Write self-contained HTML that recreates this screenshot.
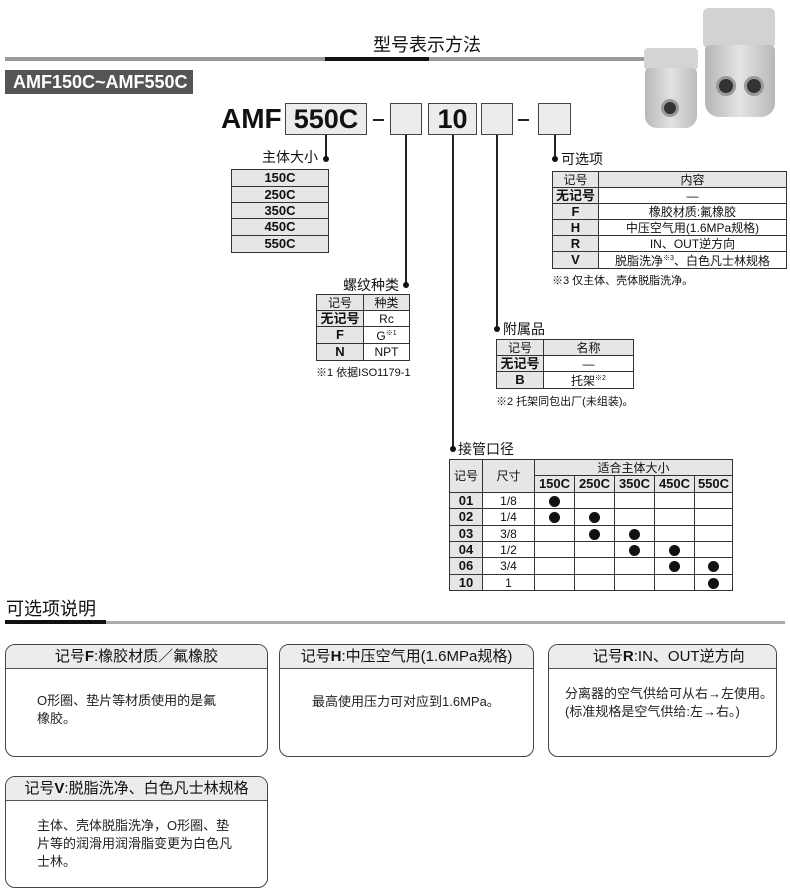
<!DOCTYPE html>
<html><head><meta charset="utf-8"><style>
*{margin:0;padding:0;box-sizing:border-box}
body{width:790px;height:894px;background:#fff;position:relative;overflow:hidden;font-family:"Liberation Sans","Noto Sans CJK SC",sans-serif;color:#111}
.a{position:absolute}
table{position:absolute;border-collapse:collapse;table-layout:fixed;font-size:12px}
td{border:1px solid #333;text-align:center;padding:0;line-height:14px;overflow:hidden;white-space:nowrap}
.g{background:#e6e6e6}
.b{font-weight:bold;font-size:13px}
.v{background:#222;width:2px}
.dot{width:6px;height:6px;border-radius:3px;background:#111}
.box{border:1px solid #444;background:#ececec;font-weight:bold;font-size:27px;text-align:center;line-height:30px}
.bl{border:1px solid #444;border-radius:10px;overflow:hidden;background:#fff}
.bh{background:#ececec;border-bottom:1px solid #555;height:24px;font-size:15px;line-height:24px;text-align:center}
.bd{font-size:13px;line-height:18px;color:#222}
.c{display:inline-block;width:11px;height:11px;border-radius:6px;background:#111;vertical-align:middle}
sup{font-size:7px}
</style></head><body>
<div class="a" style="left:5px;top:57px;width:640px;height:4px;background:#999"></div>
<div class="a" style="left:373px;top:34px;font-size:18px;line-height:22px">型号表示方法</div>
<div class="a" style="left:325px;top:57px;width:104px;height:4px;background:#111"></div>
<div class="a" style="left:5px;top:70px;width:188px;height:24px;background:#555;color:#fff;font-weight:bold;font-size:18px;line-height:24px;padding-left:8px">AMF150C~AMF550C</div>
<div class="a" style="left:644px;top:48px;width:54px;height:22px;background:#d4d4d4;border-radius:4px"></div>
<div class="a" style="left:645px;top:68px;width:52px;height:60px;background:linear-gradient(90deg,#b8b8b8,#e2e2e2,#bcbcbc);border-radius:5px 5px 12px 12px"></div>
<div class="a" style="left:661px;top:99px;width:18px;height:18px;border-radius:9px;background:#333;border:3px solid #999"></div>
<div class="a" style="left:703px;top:8px;width:72px;height:40px;background:#d2d2d2;border-radius:5px"></div>
<div class="a" style="left:705px;top:45px;width:70px;height:72px;background:linear-gradient(90deg,#b5b5b5,#e4e4e4,#b8b8b8);border-radius:5px 5px 14px 14px"></div>
<div class="a" style="left:716px;top:76px;width:20px;height:20px;border-radius:10px;background:#333;border:3px solid #999"></div>
<div class="a" style="left:744px;top:76px;width:20px;height:20px;border-radius:10px;background:#333;border:3px solid #999"></div>
<div class="a" style="left:221px;top:103px;font-weight:bold;font-size:28px;line-height:32px">AMF</div>
<div class="a box" style="left:285px;top:103px;width:82px;height:32px">550C</div>
<div class="a" style="left:373px;top:119px;width:11px;height:2px;background:#222"></div>
<div class="a box" style="left:390px;top:103px;width:32px;height:32px"></div>
<div class="a box" style="left:428px;top:103px;width:49px;height:32px">10</div>
<div class="a box" style="left:481px;top:103px;width:32px;height:32px"></div>
<div class="a" style="left:518px;top:119px;width:11px;height:2px;background:#222"></div>
<div class="a box" style="left:538px;top:103px;width:33px;height:32px"></div>
<div class="a v" style="left:325px;top:135px;height:24px"></div><div class="a dot" style="left:323px;top:156px"></div>
<div class="a v" style="left:405px;top:135px;height:150px"></div><div class="a dot" style="left:403px;top:282px"></div>
<div class="a v" style="left:452px;top:135px;height:314px"></div><div class="a dot" style="left:450px;top:446px"></div>
<div class="a v" style="left:496px;top:135px;height:194px"></div><div class="a dot" style="left:494px;top:326px"></div>
<div class="a v" style="left:554px;top:135px;height:24px"></div><div class="a dot" style="left:552px;top:156px"></div>
<div class="a" style="left:262px;top:148px;font-size:14px;line-height:18px">主体大小</div>
<table style="left:231px;top:169px;width:98px"><tr><td class="g b" style="height:17px">150C</td></tr><tr><td class="g b" style="height:16px">250C</td></tr><tr><td class="g b" style="height:16px">350C</td></tr><tr><td class="g b" style="height:17px">450C</td></tr><tr><td class="g b" style="height:17px">550C</td></tr></table>
<div class="a" style="left:343px;top:276px;font-size:14px;line-height:18px">螺纹种类</div>
<table style="left:316px;top:294px;width:94px"><col style="width:47px"><col><tr><td class="g" style="height:16px">记号</td><td class="g">种类</td></tr><tr><td class="g b" style="height:16px">无记号</td><td>Rc</td></tr><tr><td class="g b" style="height:16px">F</td><td>G<sup>※1</sup></td></tr><tr><td class="g b" style="height:17px">N</td><td>NPT</td></tr></table>
<div class="a" style="left:316px;top:364px;font-size:11px">※1 依据ISO1179-1</div>
<div class="a" style="left:561px;top:150px;font-size:14px;line-height:18px">可选项</div>
<table style="left:552px;top:171px;width:235px"><col style="width:46px"><col><tr><td class="g" style="height:16px">记号</td><td class="g">内容</td></tr><tr><td class="g b" style="height:16px">无记号</td><td>—</td></tr><tr><td class="g b" style="height:16px">F</td><td>橡胶材质:氟橡胶</td></tr><tr><td class="g b" style="height:16px">H</td><td>中压空气用(1.6MPa规格)</td></tr><tr><td class="g b" style="height:16px">R</td><td>IN、OUT逆方向</td></tr><tr><td class="g b" style="height:16px">V</td><td>脱脂洗净<sup>※3</sup>、白色凡士林规格</td></tr></table>
<div class="a" style="left:552px;top:272px;font-size:11px">※3 仅主体、壳体脱脂洗净。</div>
<div class="a" style="left:503px;top:320px;font-size:14px;line-height:18px">附属品</div>
<table style="left:496px;top:339px;width:138px"><col style="width:47px"><col><tr><td class="g" style="height:16px">记号</td><td class="g">名称</td></tr><tr><td class="g b" style="height:16px">无记号</td><td>—</td></tr><tr><td class="g b" style="height:17px">B</td><td>托架<sup>※2</sup></td></tr></table>
<div class="a" style="left:496px;top:393px;font-size:11px">※2 托架同包出厂(未组装)。</div>
<div class="a" style="left:458px;top:440px;font-size:14px;line-height:18px">接管口径</div>
<table style="left:449px;top:459px;width:284px"><col style="width:33px"><col style="width:52px"><col style="width:40px"><col style="width:40px"><col style="width:40px"><col style="width:40px"><col>
<tr><td class="g" rowspan="2">记号</td><td class="g" rowspan="2">尺寸</td><td class="g" colspan="5" style="height:16px">适合主体大小</td></tr>
<tr><td class="g b" style="height:17px">150C</td><td class="g b">250C</td><td class="g b">350C</td><td class="g b">450C</td><td class="g b">550C</td></tr>
<tr><td class="g b" style="height:16px">01</td><td>1/8</td><td><i class="c"></i></td><td></td><td></td><td></td><td></td></tr>
<tr><td class="g b" style="height:17px">02</td><td>1/4</td><td><i class="c"></i></td><td><i class="c"></i></td><td></td><td></td><td></td></tr>
<tr><td class="g b" style="height:16px">03</td><td>3/8</td><td></td><td><i class="c"></i></td><td><i class="c"></i></td><td></td><td></td></tr>
<tr><td class="g b" style="height:16px">04</td><td>1/2</td><td></td><td></td><td><i class="c"></i></td><td><i class="c"></i></td><td></td></tr>
<tr><td class="g b" style="height:17px">06</td><td>3/4</td><td></td><td></td><td></td><td><i class="c"></i></td><td><i class="c"></i></td></tr>
<tr><td class="g b" style="height:16px">10</td><td>1</td><td></td><td></td><td></td><td></td><td><i class="c"></i></td></tr></table>
<div class="a" style="left:6px;top:598px;font-size:18px;line-height:22px">可选项说明</div>
<div class="a" style="left:5px;top:621px;width:780px;height:3px;background:#aaa"></div>
<div class="a" style="left:5px;top:620px;width:101px;height:4px;background:#111"></div>
<div class="a bl" style="left:5px;top:644px;width:263px;height:113px"><div class="bh">记号<b>F</b>:橡胶材质／氟橡胶</div><div class="bd" style="padding:23px 0 0 31px">O形圈、垫片等材质使用的是氟<br>橡胶。</div></div>
<div class="a bl" style="left:279px;top:644px;width:255px;height:113px"><div class="bh">记号<b>H</b>:中压空气用(1.6MPa规格)</div><div class="bd" style="padding:24px 0 0 32px">最高使用压力可对应到1.6MPa。</div></div>
<div class="a bl" style="left:548px;top:644px;width:229px;height:113px"><div class="bh">&nbsp;&nbsp;&nbsp;记号<b>R</b>:IN、OUT逆方向</div><div class="bd" style="padding:16px 0 0 16px">分离器的空气供给可从右→左使用。<br>(标准规格是空气供给:左→右。)</div></div>
<div class="a bl" style="left:5px;top:776px;width:263px;height:112px"><div class="bh">记号<b>V</b>:脱脂洗净、白色凡士林规格</div><div class="bd" style="padding:16px 0 0 31px">主体、壳体脱脂洗净，O形圈、垫<br>片等的润滑用润滑脂变更为白色凡<br>士林。</div></div>
</body></html>
